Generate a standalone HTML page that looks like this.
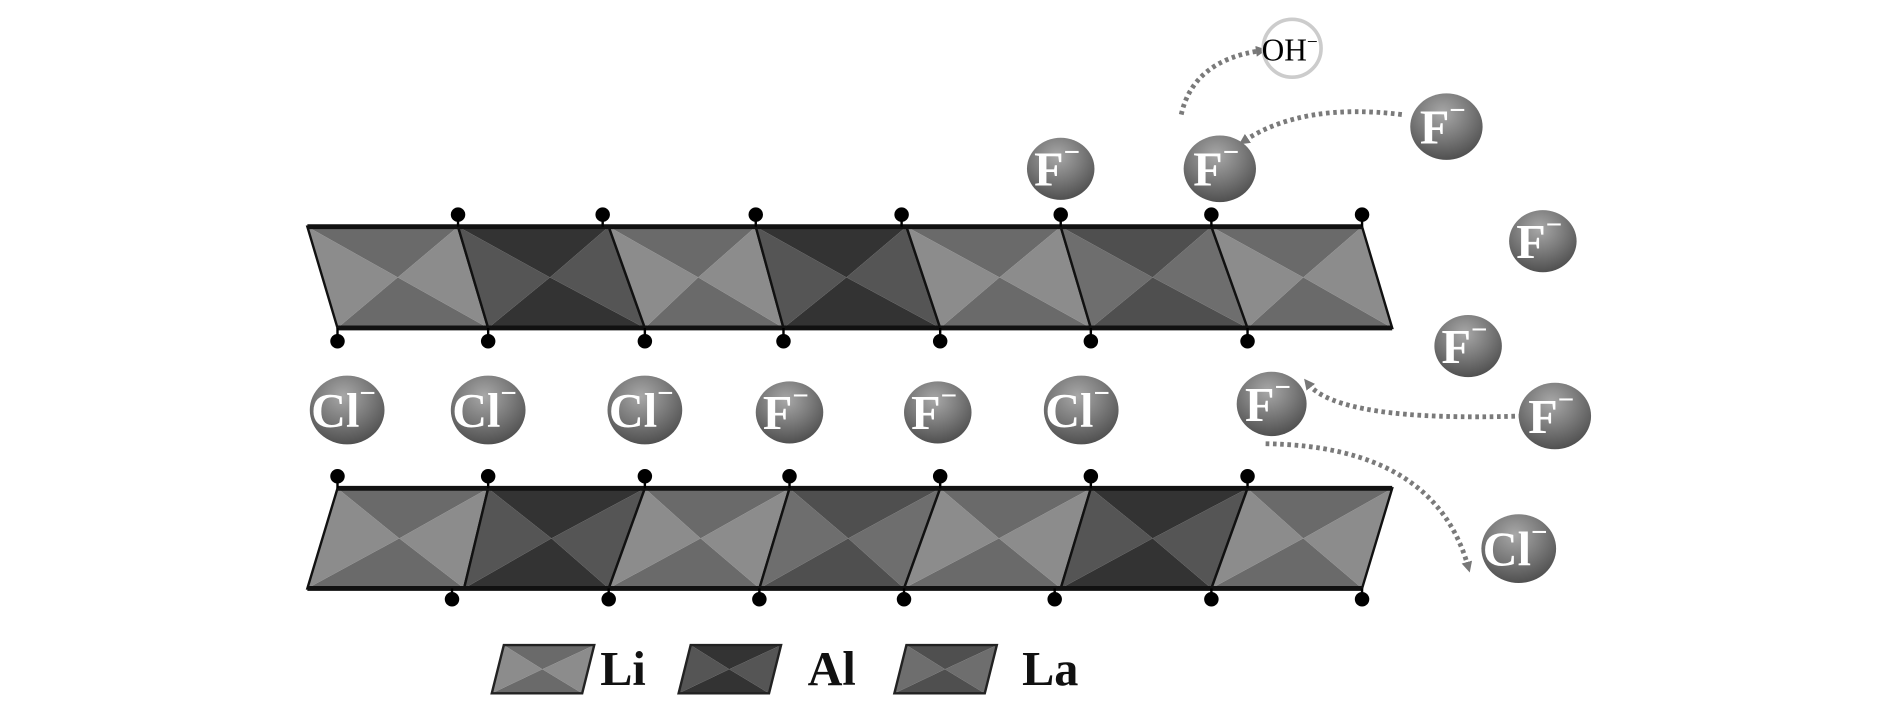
<!DOCTYPE html>
<html><head><meta charset="utf-8"><style>
html,body{margin:0;padding:0;background:#fff;width:1890px;height:709px;overflow:hidden}
svg{display:block}
text{font-family:"Liberation Serif",serif}
</style></head><body>
<svg id="s" width="1890" height="709" viewBox="0 0 1568 588" preserveAspectRatio="none" xmlns="http://www.w3.org/2000/svg">
<defs>
<radialGradient id="ball" cx="0.45" cy="0.3" r="0.75">
<stop offset="0" stop-color="#a8a8a8"/><stop offset="0.5" stop-color="#7a7a7a"/><stop offset="1" stop-color="#4a4a4a"/>
</radialGradient>
<marker id="ah" markerWidth="9" markerHeight="9" refX="4" refY="4.5" orient="auto" markerUnits="userSpaceOnUse"><path d="M0,0 L9,4.5 L0,9 z" fill="#777"/></marker>
</defs>
<g id="layers"></g>
<g fill="none" stroke="#7a7a7a" stroke-width="4" stroke-dasharray="3 3" marker-end="url(#ah)">
<path d="M980,95 Q990,50 1046,42"/>
<path d="M1163,95 Q1080,85 1032,117"/>
<path d="M1263,345 Q1110,350 1085,318"/>
<path d="M1050,368 Q1190,370 1218,470"/>
</g>
<g id="ions"></g>
<circle cx="1072" cy="40" r="24" fill="#fff" stroke="#ccc" stroke-width="3"/>
<text x="1070" y="50" font-size="26" text-anchor="middle" fill="#000">OH<tspan font-size="16" dy="-10">−</tspan></text>
<g font-size="40" font-weight="bold" fill="#111">
<text x="498" y="568">Li</text><text x="670" y="568">Al</text><text x="848" y="568">La</text>
</g>
</svg>
<script>
var NS="http://www.w3.org/2000/svg";
var C={Li:["#6a6a6a","#8c8c8c"],Al:["#333","#555"],La:["#4f4f4f","#6e6e6e"]};
function el(t,a,p){var e=document.createElementNS(NS,t);for(var k in a)e.setAttribute(k,a[k]);p.appendChild(e);return e;}
var L=document.getElementById("layers");
function layer(topX,botX,yt,yb,types,topDots,botDots,dtY,dbY){
  for(var i=0;i<types.length;i++){
    var a=[topX[i],yt],b=[topX[i+1],yt],c=[botX[i+1],yb],d=[botX[i],yb];
    var m=[(a[0]+b[0]+c[0]+d[0])/4,(yt+yb)/2];var col=C[types[i]];
    function tri(p,q,f){el("polygon",{points:p.join(",")+" "+q.join(",")+" "+m.join(","),fill:f},L);}
    tri(a,b,col[0]);tri(c,d,col[0]);tri(b,c,col[1]);tri(d,a,col[1]);
    el("polygon",{points:[a,b,c,d].map(function(p){return p.join(",")}).join(" "),fill:"none",stroke:"#111","stroke-width":2},L);
  }
  el("line",{x1:topX[0],y1:yt,x2:topX[topX.length-1],y2:yt,stroke:"#111","stroke-width":4},L);
  el("line",{x1:botX[0],y1:yb,x2:botX[botX.length-1],y2:yb,stroke:"#111","stroke-width":4},L);
  topDots.forEach(function(x){el("line",{x1:x,y1:dtY,x2:x,y2:yt,stroke:"#000","stroke-width":2},L);el("circle",{cx:x,cy:dtY,r:6,fill:"#000"},L);});
  botDots.forEach(function(x){el("line",{x1:x,y1:yb,x2:x,y2:dbY,stroke:"#000","stroke-width":2},L);el("circle",{cx:x,cy:dbY,r:6,fill:"#000"},L);});
}
layer([255,380,505,627,752,880,1005,1130],[280,405,535,650,780,905,1035,1155],188,272,
 ["Li","Al","Li","Al","Li","La","Li"],[380,500,627,748,880,1005,1130],[280,405,535,650,780,905,1035],178,283);
layer([280,405,535,655,780,905,1035,1155],[255,385,505,630,750,880,1005,1130],405,488,
 ["Li","Al","Li","La","Li","Al","Li"],[280,405,535,655,780,905,1035],[375,505,630,750,875,1005,1130],395,497);
function lbox(x,t){var a=[x,535],b=[x+75,535],c=[x+65,575],d=[x-10,575];var m=[x+32,555];var col=C[t];
 function tri(p,q,f){el("polygon",{points:p.join(",")+" "+q.join(",")+" "+m.join(","),fill:f},L);}
 tri(a,b,col[0]);tri(c,d,col[0]);tri(b,c,col[1]);tri(d,a,col[1]);
 el("polygon",{points:[a,b,c,d].map(function(p){return p.join(",")}).join(" "),fill:"none",stroke:"#222","stroke-width":2},L);}
lbox(418,"Li");lbox(573,"Al");lbox(752,"La");
var I=document.getElementById("ions");
function ion(x,y,lab,r){el("ellipse",{cx:x,cy:y,rx:r,ry:r*0.92,fill:"url(#ball)"},I);
 var t=el("text",{x:x-3,y:y+14,"text-anchor":"middle","font-size":lab=="Cl"?40:40,"font-weight":"bold",fill:"#fff"},I);t.textContent=lab;
 var s=el("tspan",{"font-size":24,dy:-20},t);s.textContent="−";}
[[288,340,"Cl",31],[405,340,"Cl",31],[535,340,"Cl",31],[655,342,"F",28],[778,342,"F",28],[897,340,"Cl",31],[1055,335,"F",29],
 [880,140,"F",28],[1012,140,"F",30],[1200,105,"F",30],[1280,200,"F",28],[1218,287,"F",28],[1290,345,"F",30],[1260,455,"Cl",31]]
.forEach(function(a){ion(a[0],a[1],a[2],a[3]);});
</script>
</body></html>
